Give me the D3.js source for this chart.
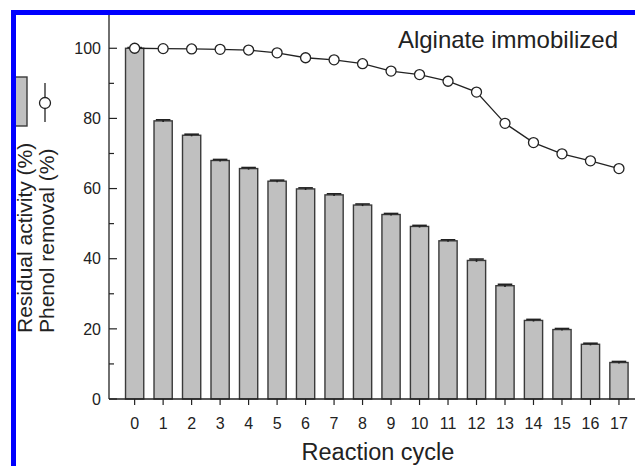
<!DOCTYPE html>
<html>
<head>
<meta charset="utf-8">
<script src="https://cdn.jsdelivr.net/npm/d3@7"></script>
<style>
  html, body { margin: 0; padding: 0; background: #fff; }
  svg { display: block; font-family: "Liberation Sans", Arial, Helvetica, sans-serif; }
</style>
</head>
<body>
<svg id="chart" width="635" height="466"></svg>
<script>
// Reaction cycles (x categories)
const cycles = [0, 1, 2, 3, 4, 5, 6, 7, 8, 9, 10, 11, 12, 13, 14, 15, 16, 17];
// Residual activity (%) per cycle — bars
const residualActivity = [100, 79.3, 75.2, 68.0, 65.7, 62.1, 59.9, 58.2, 55.3, 52.6, 49.2, 45.1, 39.5, 32.3, 22.4, 19.8, 15.6, 10.4];
// Small standard deviations on residual activity
const activityError = [0.2, 0.3, 0.3, 0.3, 0.3, 0.3, 0.3, 0.3, 0.3, 0.3, 0.3, 0.3, 0.4, 0.4, 0.3, 0.3, 0.3, 0.3];
// Phenol removal (%) per cycle — line with open circles
const phenolRemoval = [100, 99.9, 99.8, 99.7, 99.5, 98.7, 97.3, 96.7, 95.6, 93.5, 92.5, 90.6, 87.5, 78.6, 73.1, 69.9, 67.9, 65.7];
// Axis ticks
const yMajorTicks = [0, 20, 40, 60, 80, 100];
const yMinorTicks = [10, 30, 50, 70, 90];

const svg = d3.select("#chart");
const ink = "#222";

const x = d3.scaleLinear().domain([-0.9, 17.9]).range([109, 644.6]);
const y = d3.scaleLinear().domain([0, 110]).range([399, 13.2]);
const step = x(1) - x(0);
const barW = step * 0.64;

// Bars
svg.append("g").selectAll("rect")
  .data(cycles)
  .join("rect")
  .attr("x", d => x(d) - barW / 2)
  .attr("y", (d, i) => y(residualActivity[i]))
  .attr("width", barW)
  .attr("height", (d, i) => y(0) - y(residualActivity[i]))
  .attr("fill", "#c0c0c0")
  .attr("stroke", "#3a3a3a")
  .attr("stroke-width", 1.4);

// Error bars (caps on top of bars)
const errG = svg.append("g").attr("stroke", "#222").attr("stroke-width", 1.6);
cycles.forEach((d, i) => {
  const top = y(residualActivity[i] + activityError[i]);
  const bot = y(residualActivity[i] - activityError[i]);
  errG.append("line").attr("x1", x(d)).attr("x2", x(d)).attr("y1", top).attr("y2", bot);
  errG.append("line").attr("x1", x(d) - barW * 0.4).attr("x2", x(d) + barW * 0.4).attr("y1", top).attr("y2", top);
});

// Phenol removal line
const line = d3.line().x((d, i) => x(cycles[i])).y(d => y(d));
svg.append("path")
  .datum(phenolRemoval)
  .attr("d", line)
  .attr("fill", "none")
  .attr("stroke", ink)
  .attr("stroke-width", 1.3);

svg.append("g").selectAll("circle")
  .data(phenolRemoval)
  .join("circle")
  .attr("cx", (d, i) => x(cycles[i]))
  .attr("cy", d => y(d))
  .attr("r", 5)
  .attr("fill", "#fff")
  .attr("stroke", ink)
  .attr("stroke-width", 1.3);

// Left axis: line, inward ticks, labels
const yAxisG = svg.append("g").attr("transform", `translate(${x(-0.9)},0)`);
yAxisG.append("line").attr("x1", 0).attr("x2", 0).attr("y1", y(110)).attr("y2", y(0))
  .attr("stroke", ink).attr("stroke-width", 1.3);
yAxisG.selectAll(".major").data(yMajorTicks).join("line")
  .attr("x1", 0).attr("x2", 8).attr("y1", d => y(d)).attr("y2", d => y(d))
  .attr("stroke", ink).attr("stroke-width", 1.2);
yAxisG.selectAll(".minor").data(yMinorTicks).join("line")
  .attr("x1", 0).attr("x2", 5).attr("y1", d => y(d)).attr("y2", d => y(d))
  .attr("stroke", ink).attr("stroke-width", 1.2);
yAxisG.selectAll("text").data(yMajorTicks).join("text")
  .attr("x", -8).attr("y", d => y(d)).attr("dy", "0.36em")
  .attr("text-anchor", "end").attr("font-size", 16).attr("fill", ink)
  .text(d => d);

// Bottom axis: line, outward ticks, labels
const xAxisG = svg.append("g").attr("transform", `translate(0,${y(0)})`);
xAxisG.append("line").attr("x1", x(-0.9)).attr("x2", 635).attr("y1", 0).attr("y2", 0)
  .attr("stroke", ink).attr("stroke-width", 1.3);
xAxisG.selectAll(".tick").data(cycles).join("line")
  .attr("x1", d => x(d)).attr("x2", d => x(d)).attr("y1", 0).attr("y2", 6)
  .attr("stroke", ink).attr("stroke-width", 1.2);
xAxisG.selectAll("text").data(cycles).join("text")
  .attr("x", d => x(d)).attr("y", 30)
  .attr("text-anchor", "middle").attr("font-size", 16).attr("fill", ink)
  .text(d => d);

// Axis titles
svg.append("text")
  .attr("x", 378).attr("y", 460)
  .attr("text-anchor", "middle").attr("font-size", 23.5).attr("fill", ink)
  .text("Reaction cycle");

const yTitle = svg.append("g").attr("transform", "translate(0,333) rotate(-90)");
yTitle.append("text").attr("x", 0).attr("y", 32)
  .attr("font-size", 21).attr("fill", ink).text("Residual activity (%)");
yTitle.append("text").attr("x", 0).attr("y", 54)
  .attr("font-size", 21).attr("fill", ink).text("Phenol removal (%)");

// Legend keys above the axis title
svg.append("rect").attr("x", 5).attr("y", 77).attr("width", 22).attr("height", 49)
  .attr("fill", "#c0c0c0").attr("stroke", "#3a3a3a").attr("stroke-width", 1.4);
svg.append("line").attr("x1", 45).attr("x2", 45).attr("y1", 83).attr("y2", 122)
  .attr("stroke", ink).attr("stroke-width", 1.3);
svg.append("circle").attr("cx", 45).attr("cy", 103).attr("r", 5.5)
  .attr("fill", "#fff").attr("stroke", ink).attr("stroke-width", 1.3);

// Panel label
svg.append("text")
  .attr("x", 618).attr("y", 48)
  .attr("text-anchor", "end").attr("font-size", 24).attr("fill", ink)
  .text("Alginate immobilized");

// Blue frame along the top and left edges
svg.append("rect").attr("x", 0).attr("y", 0).attr("width", 11).attr("height", 466).attr("fill", "#fff");
svg.append("rect").attr("x", 0).attr("y", 0).attr("width", 635).attr("height", 10).attr("fill", "#fff");
svg.append("rect").attr("x", 11).attr("y", 10).attr("width", 5).attr("height", 456).attr("fill", "#0000ff");
svg.append("rect").attr("x", 11).attr("y", 10).attr("width", 624).attr("height", 5).attr("fill", "#0000ff");
</script>
</body>
</html>
